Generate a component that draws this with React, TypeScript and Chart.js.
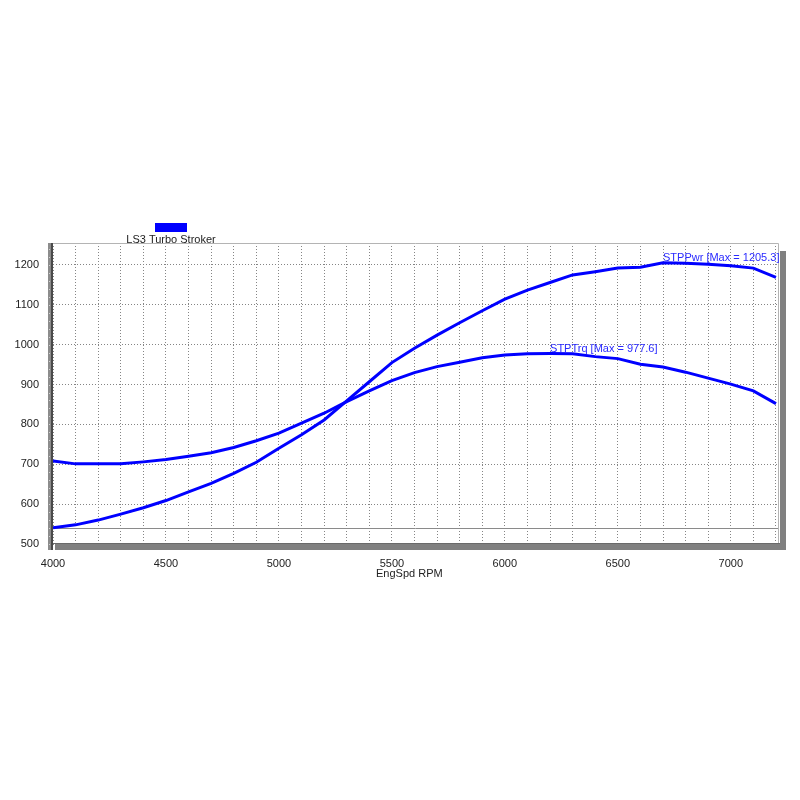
import { useEffect, useRef } from "react";
import { Chart, registerables, Plugin } from "chart.js";

Chart.register(...registerables);

// engine speed, one point every 100 rpm
const rpm = [
  4000, 4100, 4200, 4300, 4400, 4500, 4600, 4700, 4800, 4900, 5000, 5100,
  5200, 5300, 5400, 5500, 5600, 5700, 5800, 5900, 6000, 6100, 6200, 6300,
  6400, 6500, 6600, 6700, 6800, 6900, 7000, 7100, 7200,
];

const stpPwr = [
  541, 548, 560, 575, 591, 609, 631, 652, 677, 705, 740, 774, 811, 859, 907,
  955, 991, 1024, 1055, 1085, 1114, 1137, 1156, 1175, 1183, 1192, 1194,
  1205.3, 1204, 1202, 1198, 1192, 1169,
];

const stpTrq = [
  708, 701, 701, 701, 706, 712, 720, 729, 742, 759, 778, 803, 828, 857, 884,
  910, 930, 945, 956, 967, 974, 977, 977.6, 977, 970, 965, 951, 944, 931, 916,
  901, 884, 852,
];

const yTicks = [500, 600, 700, 800, 900, 1000, 1100, 1200];
const xLabelEvery = 500;

const seriesNames = ["STPPwr", "STPTrq"];
const seriesValues = [stpPwr, stpTrq];
const legendLabel = "LS3 Turbo Stroker";
const xTitle = "EngSpd RPM";
const refLine = 540;

const BLUE = "#0000ff";
const FONT = "'Liberation Sans', Arial, sans-serif";

const decorations: Plugin<"line"> = {
  id: "decorations",
  beforeDatasetsDraw(chart) {
    const { ctx, chartArea: a, scales } = chart;
    const y = scales.y.getPixelForValue(refLine);
    ctx.save();
    ctx.strokeStyle = "#8a8a8a";
    ctx.lineWidth = 1;
    ctx.beginPath();
    ctx.moveTo(a.left, Math.round(y) + 0.5);
    ctx.lineTo(a.right, Math.round(y) + 0.5);
    ctx.stroke();
    ctx.restore();
  },
  afterDraw(chart) {
    const { ctx, chartArea: a, scales } = chart;
    ctx.save();

    // frame top / right
    ctx.strokeStyle = "#b4b4b4";
    ctx.lineWidth = 1;
    ctx.beginPath();
    ctx.moveTo(a.left, a.top + 0.5);
    ctx.lineTo(a.right + 0.5, a.top + 0.5);
    ctx.lineTo(a.right + 0.5, a.bottom);
    ctx.stroke();

    // shadow right / bottom
    ctx.fillStyle = "#808080";
    ctx.fillRect(a.right + 2, a.top + 8, 6, a.bottom - a.top - 2);
    ctx.fillRect(a.left + 2, a.bottom, a.right - a.left + 6, 6);
    ctx.fillStyle = "#6a6a6a";
    ctx.fillRect(a.left, a.bottom - 1, a.right - a.left + 2, 1);

    // left axis bar
    ctx.fillStyle = "#8c8c8c";
    ctx.fillRect(a.left - 5, a.top, 5, a.bottom - a.top + 6);
    ctx.fillStyle = "#4a4a4a";
    ctx.fillRect(a.left - 2, a.top, 2, a.bottom - a.top + 6);
    ctx.fillStyle = "#d0d0d0";
    for (let v = 500; v <= 1250; v += 20) {
      const py = Math.round(scales.y.getPixelForValue(v));
      ctx.fillRect(a.left - 4, py, 1, 1);
    }

    // max annotations
    ctx.font = `11px ${FONT}`;
    ctx.fillStyle = "#2a2aff";
    ctx.textAlign = "left";
    ctx.textBaseline = "alphabetic";
    seriesValues.forEach((vals, i) => {
      const max = Math.max(...vals);
      const idx = vals.indexOf(max);
      const px = scales.x.getPixelForValue(rpm[idx]);
      const py = scales.y.getPixelForValue(max);
      ctx.fillText(`${seriesNames[i]} [Max = ${max.toFixed(1)}]`, px, py - 2);
    });

    // legend
    ctx.fillStyle = BLUE;
    ctx.fillRect(155, 223, 32, 9);
    ctx.fillStyle = "#222";
    ctx.textAlign = "center";
    ctx.fillText(legendLabel, 171, 243);

    // x title
    ctx.textAlign = "left";
    ctx.textBaseline = "middle";
    ctx.fillText(xTitle, 376, 574);

    ctx.restore();
  },
};

const App = () => {
  const chartRef = useRef<Chart | null>(null);
  const chartCanvas = useRef<HTMLCanvasElement | null>(null);

  useEffect(() => {
    if (chartRef.current) {
      chartRef.current.destroy();
    }
    const context = chartCanvas.current?.getContext("2d");
    if (context) {
      chartRef.current = new Chart(context, {
        type: "line",
        data: {
          datasets: seriesValues.map((vals, i) => ({
            label: seriesNames[i],
            data: rpm.map((x, j) => ({ x, y: vals[j] })),
            borderColor: BLUE,
            borderWidth: 3,
            pointRadius: 0,
            tension: 0,
          })),
        },
        options: {
          animation: false,
          responsive: false,
          layout: { padding: { left: 0, top: 243, right: 22, bottom: 216 } },
          plugins: {
            legend: { display: false },
            tooltip: { enabled: false },
          },
          scales: {
            x: {
              type: "linear",
              min: 4000,
              max: 7209,
              afterBuildTicks: (scale) => {
                scale.ticks = rpm.map((v) => ({ value: v }));
              },
              afterFit: (scale) => {
                scale.height = 40;
                scale.paddingLeft = 0;
                scale.paddingRight = 0;
              },
              ticks: {
                autoSkip: false,
                maxRotation: 0,
                minRotation: 0,
                padding: 13,
                color: "#222",
                font: { family: FONT, size: 11 },
                callback: (v) =>
                  Number(v) % xLabelEvery === 0 ? String(v) : "",
              },
              grid: { color: "#858585", lineWidth: 1, drawTicks: false },
              border: { display: false, dash: [1, 2] },
            },
            y: {
              type: "linear",
              min: 500,
              max: 1255,
              afterBuildTicks: (scale) => {
                scale.ticks = yTicks.map((v) => ({ value: v }));
              },
              afterFit: (scale) => {
                scale.width = 53;
                scale.paddingTop = 0;
                scale.paddingBottom = 0;
              },
              ticks: {
                padding: 14,
                color: "#222",
                font: { family: FONT, size: 11 },
                callback: (v) => String(v),
              },
              grid: { color: "#858585", lineWidth: 1, drawTicks: false },
              border: { display: false, dash: [1, 2] },
            },
          },
        },
        plugins: [decorations],
      });
    }
    return () => {
      if (chartRef.current) {
        chartRef.current.destroy();
        chartRef.current = null;
      }
    };
  }, []);

  return (
    <div
      style={{
        position: "fixed",
        left: 0,
        top: 0,
        width: 800,
        height: 800,
        background: "#fff",
      }}
    >
      <canvas ref={chartCanvas} width={800} height={800}></canvas>
    </div>
  );
};

export default App;
